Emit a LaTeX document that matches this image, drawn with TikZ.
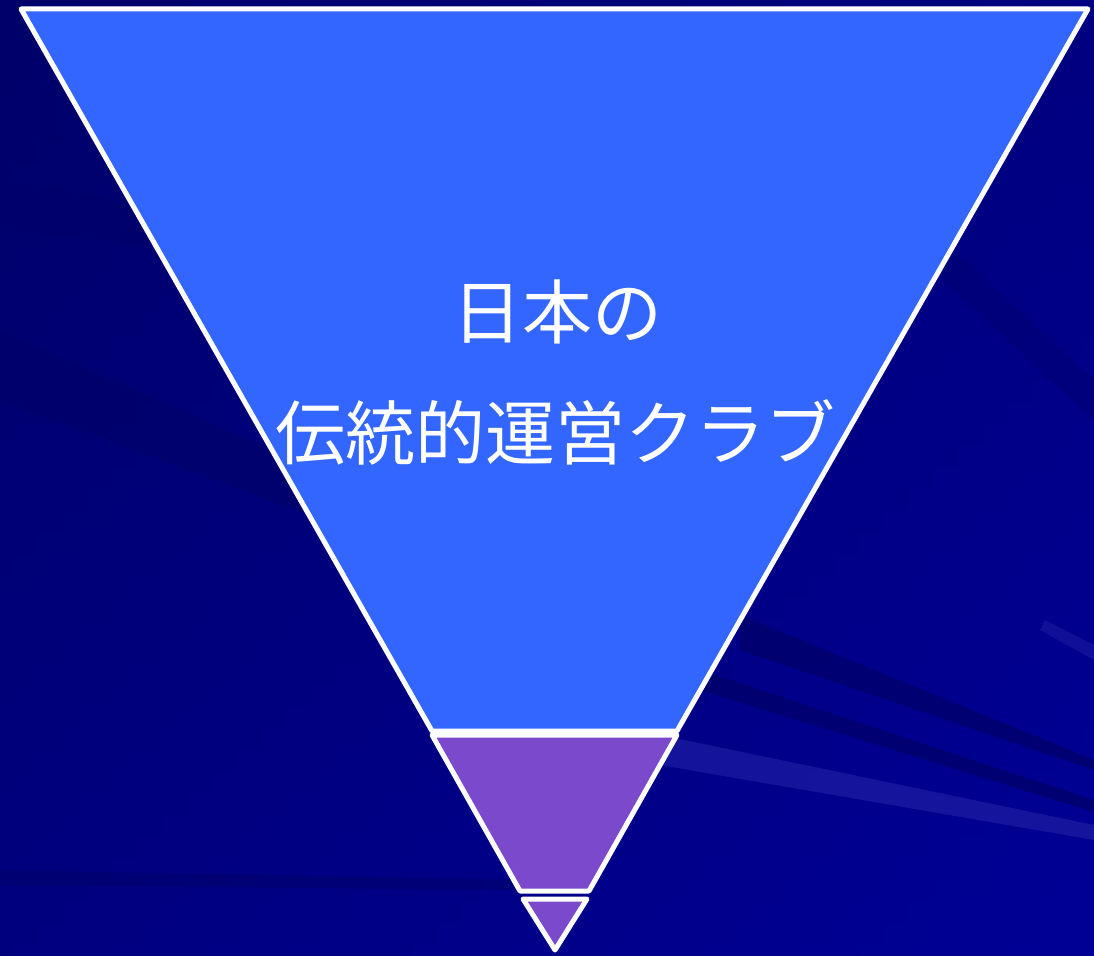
\documentclass[tikz,border=0pt]{standalone}
\usepackage{fontspec}
\newfontfamily\jpfont{Noto Sans CJK JP}
\definecolor{bgtop}{HTML}{00006A}
\definecolor{bgbot}{HTML}{000096}
\definecolor{streakdark}{HTML}{00006C}
\definecolor{streaklight}{HTML}{1A1AA0}
\definecolor{topblue}{HTML}{3366FF}
\definecolor{midpurple}{HTML}{7B49CC}
\tikzset{
  layer/.style={draw=white, line width=5pt, line join=round},
  label/.style={text=white, font=\jpfont\fontsize{70}{74}\selectfont, inner sep=0pt, anchor=center}
}
\begin{document}
\begin{tikzpicture}[x=1pt,y=-1pt]
\useasboundingbox (0,0) rectangle (1094,955);
% background
\shade[top color=bgtop, bottom color=bgbot] (0,0) rectangle (1094,955);
\shade[left color=bgtop, right color=bgbot, opacity=0.5] (0,0) rectangle (1094,955);
% streaks
\fill[streakdark, opacity=0.8] (0,330) -- (430,520) -- (430,560) -- (0,400) -- cycle;
\fill[streakdark, opacity=0.7] (0,180) -- (300,230) -- (300,260) -- (0,230) -- cycle;
\fill[streakdark, opacity=0.8] (740,615) -- (1094,760) -- (1094,770) -- (740,650) -- cycle;
\fill[streakdark, opacity=0.8] (700,670) -- (1094,800) -- (1094,812) -- (700,690) -- cycle;
\fill[streakdark, opacity=0.4] (900,200) -- (1094,380) -- (1094,420) -- (900,240) -- cycle;
\fill[streaklight, opacity=0.8] (660,735) -- (1094,825) -- (1094,840) -- (660,765) -- cycle;
\fill[streaklight, opacity=0.6] (1045,620) -- (1094,645) -- (1094,660) -- (1040,630) -- cycle;
\fill[streakdark, opacity=0.6] (0,870) -- (520,880) -- (520,890) -- (0,885) -- cycle;
% layers
\coordinate (tl) at (21,9);
\coordinate (tr) at (1088,9);
\coordinate (bl1) at (432,731);
\coordinate (br1) at (677,731);
\coordinate (tl2) at (432,735);
\coordinate (tr2) at (677,735);
\coordinate (bl2) at (520,891);
\coordinate (br2) at (589,891);
\coordinate (tl3) at (523,899);
\coordinate (tr3) at (587,899);
\coordinate (apex) at (555,950);
\filldraw[layer, fill=topblue] (tl) -- (tr) -- (br1) -- (bl1) -- cycle;
\filldraw[layer, fill=midpurple] (tl2) -- (tr2) -- (br2) -- (bl2) -- cycle;
\filldraw[layer, fill=midpurple] (tl3) -- (tr3) -- (apex) -- cycle;
% text
\node[label] (t1) at (557,312) {日本の};
\node[label] (t2) at (555,432) {伝統的運営クラブ};
\end{tikzpicture}
\end{document}
